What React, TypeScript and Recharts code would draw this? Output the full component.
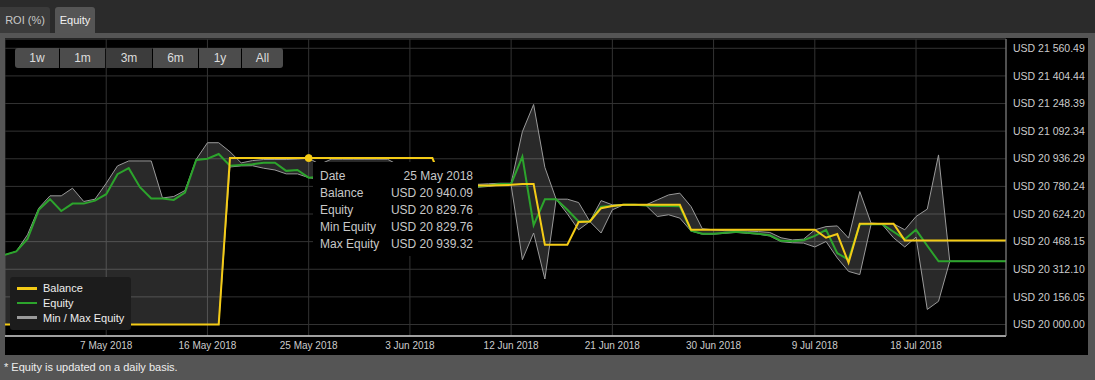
import React from "react";
import {
  ComposedChart,
  Area,
  Line,
  XAxis,
  YAxis,
  CartesianGrid,
  Tooltip,
  Legend,
  ReferenceLine,
} from "recharts";

// Daily series, 28 Apr 2018 .. 26 Jul 2018 (index = day)
const MONTHS = ["Jan", "Feb", "Mar", "Apr", "May", "Jun", "Jul", "Aug", "Sep", "Oct", "Nov", "Dec"];
const START = Date.UTC(2018, 3, 28);
const days = Array.from({ length: 90 }, (_, i) => {
  const d = new Date(START + i * 86400000);
  return `${d.getUTCDate()} ${MONTHS[d.getUTCMonth()]} ${d.getUTCFullYear()}`;
});

const balance = [
  20000, 20000, 20000, 20000, 20000, 20000, 20000, 20000, 20000, 20000,
  20000, 20000, 20000, 20000, 20000, 20000, 20000, 20000, 20000, 20000,
  20940.09, 20940.09, 20940.09, 20940.09, 20940.09, 20940.09, 20940.09, 20940.09, 20940.09, 20940.09,
  20940.09, 20940.09, 20940.09, 20940.09, 20940.09, 20940.09, 20940.09, 20940.09, 20940.09, 20782,
  20781, 20780, 20785, 20786, 20787, 20789, 20794, 20794, 20451, 20451,
  20451, 20579, 20582, 20657, 20670, 20676, 20676, 20676, 20676, 20676,
  20676, 20535, 20535, 20535, 20535, 20535, 20535, 20535, 20535, 20535,
  20535, 20535, 20535, 20490, 20511, 20349, 20569, 20569, 20569, 20569,
  20475, 20475, 20475, 20475, 20475, 20475, 20475, 20475, 20475, 20475,
];

const equity = [
  20394, 20413, 20483, 20648, 20708, 20641, 20683, 20683, 20700, 20736,
  20849, 20883, 20776, 20712, 20712, 20704, 20745, 20930, 20937, 20963,
  20897, 20901, 20905, 20914, 20914, 20868, 20873, 20829.76, 20835, 20840,
  20832, 20820, 20815, 20810, 20800, 20795, 20790, 20785, 20780, 20778,
  20776, 20775, 20780, 20786, 20794, 20794, 20949, 20561, 20707, 20707,
  20648, 20582, 20582, 20665, 20670, 20676, 20676, 20673, 20670, 20670,
  20668, 20530, 20513, 20513, 20518, 20524, 20518, 20513, 20504, 20473,
  20470, 20476, 20501, 20535, 20403, 20366, 20567, 20567, 20567, 20524,
  20482, 20535, 20445, 20357, 20357, 20357, 20357, 20357, 20357, 20357,
];

const minEquity = [
  20000, 20000, 20000, 20000, 20000, 20000, 20000, 20000, 20000, 20000,
  20000, 20000, 20000, 20000, 20000, 20000, 20000, 20000, 20000, 20000,
  20890, 20896, 20897, 20883, 20873, 20851, 20851, 20829.76, 20820, 20825,
  20815, 20805, 20800, 20795, 20785, 20780, 20775, 20770, 20765, 20765,
  20768, 20770, 20775, 20780, 20788, 20789, 20366, 20517, 20257, 20707,
  20625, 20535, 20582, 20517, 20648, 20676, 20676, 20672, 20610, 20620,
  20601, 20528, 20510, 20510, 20515, 20520, 20515, 20510, 20500, 20468,
  20462, 20460, 20438, 20469, 20376, 20300, 20282, 20565, 20565, 20490,
  20438, 20494, 20085, 20131, 20357, 20357, 20357, 20357, 20357, 20357,
];

const maxEquity = [
  20394, 20413, 20507, 20657, 20727, 20727, 20770, 20695, 20708, 20798,
  20896, 20924, 20924, 20924, 20715, 20723, 20757, 20933, 21027, 21027,
  20976, 20913, 20926, 20932, 20932, 20932, 20935, 20939.32, 20905, 20934,
  20934, 20934, 20934, 20934, 20934, 20900, 20880, 20870, 20860, 20820,
  20800, 20790, 20792, 20795, 20798, 20798, 21089, 21243, 20888, 20708,
  20708, 20689, 20582, 20700, 20676, 20676, 20676, 20676, 20704, 20732,
  20742, 20666, 20541, 20535, 20530, 20530, 20528, 20525, 20520, 20490,
  20478, 20482, 20535, 20553, 20557, 20488, 20751, 20573, 20569, 20569,
  20535, 20610, 20652, 20958, 20357, 20357, 20357, 20357, 20357, 20357,
];

const xTicks = [9, 18, 27, 36, 45, 54, 63, 72, 81];
const yTicks = [
  20000, 20156.05, 20312.1, 20468.15, 20624.2, 20780.24, 20936.29, 21092.34, 21248.39, 21404.44, 21560.49,
];
const Y_MIN = 19935;
const Y_MAX = 21613;
const HOVER_INDEX = 27;

const ranges = ["1w", "1m", "3m", "6m", "1y", "All"];

const BAL_COLOR = "#f4cb16";
const EQ_COLOR = "#2ca42c";
const RANGE_STROKE = "#9a9a9a";
const FONT = '"Liberation Sans", Arial, sans-serif';

const data = days.map((_, i) => ({
  d: i,
  balance: balance[i],
  equity: equity[i],
  minEq: minEquity[i],
  maxEq: maxEquity[i],
  range: [minEquity[i], maxEquity[i]],
}));

function fmtUSD(v: number) {
  const [int, dec] = v.toFixed(2).split(".");
  return `USD ${int.replace(/\B(?=(\d{3})+$)/g, " ")}.${dec}`;
}

const YTick = ({ x, y, payload }: any) => (
  <text x={x + 7} y={y} dy="0.35em" fill="#cccccc" fontSize={10.5} fontFamily={FONT} textAnchor="start">
    {fmtUSD(payload.value)}
  </text>
);

const XTick = ({ x, y, payload }: any) => (
  <text x={x} y={y + 13} fill="#cccccc" fontSize={10} fontFamily={FONT} textAnchor="middle">
    {days[payload.value]}
  </text>
);

const legendItems = [
  { name: "Balance", color: BAL_COLOR },
  { name: "Equity", color: EQ_COLOR },
  { name: "Min / Max Equity", color: RANGE_STROKE },
];

const LegendBox = () => (
  <div
    style={{
      width: 121,
      height: 53,
      background: "#1c1c1c",
      borderRadius: 3,
      boxSizing: "border-box",
      paddingTop: 4,
      fontFamily: FONT,
      fontSize: 11,
      color: "#eeeeee",
    }}
  >
    {legendItems.map((it) => (
      <div key={it.name} style={{ display: "flex", alignItems: "center", height: 14.7 }}>
        <div style={{ marginLeft: 7, width: 20, height: 2.5, background: it.color }} />
        <span style={{ marginLeft: 6 }}>{it.name}</span>
      </div>
    ))}
  </div>
);

const TooltipBox = ({ active, payload }: any) => {
  if (!active || !payload || !payload.length) return null;
  const p = payload[0].payload;
  const rows = [
    ["Date", days[p.d]],
    ["Balance", fmtUSD(p.balance)],
    ["Equity", fmtUSD(p.equity)],
    ["Min Equity", fmtUSD(p.minEq)],
    ["Max Equity", fmtUSD(p.maxEq)],
  ];
  return (
    <div
      style={{
        width: 165,
        height: 94,
        background: "#000",
        boxSizing: "border-box",
        padding: "6px 5px 0 7px",
        color: "#c8c8c8",
        fontFamily: FONT,
        fontSize: 12,
        lineHeight: "17px",
      }}
    >
      {rows.map(([k, v]) => (
        <div key={k} style={{ display: "flex", justifyContent: "space-between" }}>
          <span>{k}</span>
          <span>{v}</span>
        </div>
      ))}
    </div>
  );
};

const btnX = [15, 60, 106, 153, 199, 242];
const btnW = [44, 45, 46, 45, 42, 41];

export default function App() {
  return (
    <div
      style={{
        position: "absolute",
        left: 0,
        top: 0,
        width: 1095,
        height: 380,
        background: "#2b2b2b",
        overflow: "hidden",
        fontFamily: FONT,
      }}
    >
      {/* tabs */}
      <div style={{ position: "absolute", left: 0, top: 7, width: 50, height: 26, background: "#3b3b3b", color: "#c8c8c8", fontSize: 11, lineHeight: "26px", textAlign: "center", borderTopRightRadius: 3 }}>
        ROI (%)
      </div>
      <div style={{ position: "absolute", left: 55, top: 7, width: 40, height: 26, background: "#555", color: "#f2f2f2", fontSize: 11, lineHeight: "26px", textAlign: "center", borderTopLeftRadius: 3, borderTopRightRadius: 3 }}>
        Equity
      </div>

      {/* panel */}
      <div style={{ position: "absolute", left: 0, top: 33, width: 1095, height: 347, background: "#555" }} />

      <div style={{ position: "absolute", left: 5, top: 38, width: 1083, height: 317, background: "#000" }}>
        <ComposedChart width={1083} height={317} data={data} margin={{ top: 1, right: 0, bottom: 0, left: 0 }}>
          <CartesianGrid stroke="#333" strokeWidth={1} />
          <XAxis
            dataKey="d"
            type="number"
            domain={[0, 89]}
            ticks={xTicks}
            interval={0}
            height={19}
            tickLine={false}
            tickSize={0}
            tickMargin={0}
            axisLine={{ stroke: "#cccccc", strokeWidth: 1.5 }}
            tick={<XTick />}
          />
          <YAxis
            orientation="right"
            type="number"
            domain={[Y_MIN, Y_MAX]}
            ticks={yTicks}
            interval={0}
            width={82}
            tickLine={false}
            tickSize={0}
            tickMargin={0}
            axisLine={{ stroke: "#888888" }}
            tick={<YTick />}
          />
          <ReferenceLine y={Y_MAX} stroke="#333" />
          <Area
            dataKey="range"
            name="Min / Max Equity"
            type="linear"
            stroke={RANGE_STROKE}
            strokeWidth={1}
            fill="#ffffff"
            fillOpacity={0.16}
            activeDot={false}
            isAnimationActive={false}
          />
          <Line
            dataKey="equity"
            name="Equity"
            type="linear"
            stroke={EQ_COLOR}
            strokeWidth={2}
            dot={false}
            activeDot={false}
            isAnimationActive={false}
          />
          <Line
            dataKey="balance"
            name="Balance"
            type="linear"
            stroke={BAL_COLOR}
            strokeWidth={2}
            dot={false}
            activeDot={{ r: 3.5, fill: BAL_COLOR, stroke: BAL_COLOR, strokeWidth: 1 }}
            isAnimationActive={false}
          />
          <Legend
            layout="horizontal"
            verticalAlign="middle"
            align="center"
            width={121}
            height={53}
            wrapperStyle={{ left: 5, top: 239, width: 121, height: 53 }}
            content={() => <LegendBox />}
          />
          <Tooltip
            defaultIndex={HOVER_INDEX}
            active
            cursor={false}
            isAnimationActive={false}
            position={{ x: 308, y: 124 }}
            content={<TooltipBox />}
          />
        </ComposedChart>

        {/* range selector buttons */}
        {ranges.map((r, i) => (
          <div
            key={r}
            style={{
              position: "absolute",
              left: btnX[i] - 5,
              top: 10,
              width: btnW[i],
              height: 20,
              background: r === "3m" ? "#3c3c3c" : "#4c4c4c",
              color: "#dddddd",
              fontSize: 12,
              lineHeight: "20px",
              textAlign: "center",
              borderTopLeftRadius: i === 0 ? 3 : 0,
              borderBottomLeftRadius: i === 0 ? 3 : 0,
              borderTopRightRadius: i === ranges.length - 1 ? 3 : 0,
              borderBottomRightRadius: i === ranges.length - 1 ? 3 : 0,
            }}
          >
            {r}
          </div>
        ))}
      </div>

      <div style={{ position: "absolute", left: 4, top: 360, color: "#eeeeee", fontSize: 11, lineHeight: "14px" }}>
        * Equity is updated on a daily basis.
      </div>
    </div>
  );
}
